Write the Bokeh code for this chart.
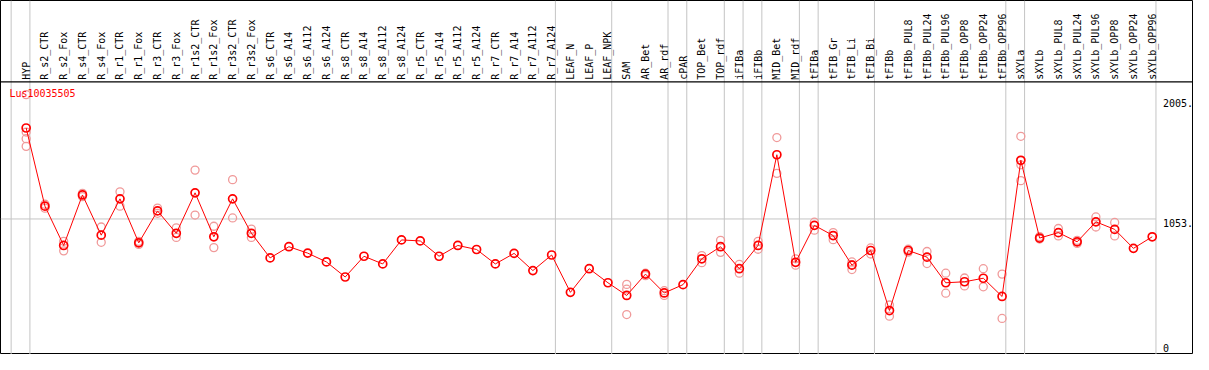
import numpy as np
from bokeh.plotting import figure
from bokeh.models import Range1d
from bokeh.core.properties import value
from bokeh.embed import file_html
from bokeh.resources import INLINE

# ---------------- data ----------------
title_text = "Lus10035505"

categories = [
    "HYP",
    "R_s2_CTR", "R_s2_Fox", "R_s4_CTR", "R_s4_Fox", "R_r1_CTR", "R_r1_Fox",
    "R_r3_CTR", "R_r3_Fox", "R_r1s2_CTR", "R_r1s2_Fox", "R_r3s2_CTR", "R_r3s2_Fox",
    "R_s6_CTR", "R_s6_A14", "R_s6_A112", "R_s6_A124",
    "R_s8_CTR", "R_s8_A14", "R_s8_A112", "R_s8_A124",
    "R_r5_CTR", "R_r5_A14", "R_r5_A112", "R_r5_A124",
    "R_r7_CTR", "R_r7_A14", "R_r7_A112", "R_r7_A124",
    "LEAF_N", "LEAF_P", "LEAF_NPK",
    "SAM", "AR_Bet", "AR_rdf",
    "cPAR",
    "TOP_Bet", "TOP_rdf",
    "iFIBa",
    "iFIBb",
    "MID_Bet", "MID_rdf",
    "tFIBa",
    "tFIB_Gr", "tFIB_Li", "tFIB_Bi",
    "tFIBb", "tFIBb_PUL8", "tFIBb_PUL24", "tFIBb_PUL96", "tFIBb_OPP8", "tFIBb_OPP24", "tFIBb_OPP96",
    "sXYLa",
    "sXYLb", "sXYLb_PUL8", "sXYLb_PUL24", "sXYLb_PUL96", "sXYLb_OPP8", "sXYLb_OPP24", "sXYLb_OPP96",
]

# group sizes (vertical separators drawn after each group)
group_sizes = [1, 28, 3, 3, 1, 2, 1, 1, 2, 1, 3, 7, 1, 7]

means = [
    1777,
    1155, 842, 1244, 924, 1213, 863, 1117, 939, 1261, 911, 1213, 939,
    743, 832, 781, 711,
    591, 756, 695, 886,
    878, 756, 842, 810,
    695, 779, 642, 766,
    469, 657, 545,
    444, 614, 464,
    530,
    736, 832,
    657,
    842,
    1564, 708,
    1002,
    921, 685, 802,
    324, 802, 749, 545, 553, 581, 436,
    1520,
    901, 944, 871, 1030, 970, 819, 911,
]

replicates = [
    [2043, 1745, 1692, 1631],
    [1170, 1139], [875, 799], [1257, 1231], [989, 867], [1269, 1155], [875, 850],
    [1140, 1098], [982, 906], [1442, 1084], [995, 825], [1366, 1061], [972, 906],
    [], [], [], [],
    [], [], [], [],
    [], [], [], [],
    [], [], [], [],
    [], [], [],
    [532, 494, 292], [621, 602], [482, 444],
    [],
    [761, 705], [883, 787],
    [692, 621],
    [875, 812],
    [1701, 1416], [736, 685],
    [1027, 964],
    [944, 888], [711, 690, 650], [822, 774],
    [368, 279], [812, 789], [794, 698], [621, 462], [583, 520], [657, 513], [614, 261],
    [1711, 1484, 1358],
    [913, 893], [977, 918], [883, 858], [1069, 989], [1025, 918], [], [],
]

y_ticks = [0, 1053, 2005]
y_tick_labels = ["0", "1053.", "2005."]

# ---------------- layout ----------------
W, H = 1193, 354
x_lo, x_hi = -1.367, 62.2
y_lo, y_hi = -26, 2792
header_line = 2145          # black line under the category labels
u_per_px = (y_hi - y_lo) / H

idx = np.arange(len(categories))
ends = np.cumsum(group_sizes) - 1
bounds = [-1 + 0.2] + [e + 0.2 for e in ends]
right_edge = bounds[-1]

p = figure(width=W, height=H, x_range=Range1d(x_lo, x_hi), y_range=Range1d(y_lo, y_hi),
           output_backend="svg", toolbar_location=None,
           x_axis_location=None, y_axis_location=None, min_border=0)
p.grid.visible = False
p.outline_line_color = "black"
p.outline_line_width = 1
p.background_fill_color = "white"
p.border_fill_color = "white"

gray = "#c4c4c4"
# vertical group separators
p.segment(x0=bounds, y0=[y_lo] * len(bounds), x1=bounds, y1=[y_hi] * len(bounds),
          line_color=gray, line_width=1)
# horizontal reference line at middle tick
p.segment(x0=[x_lo], y0=[y_ticks[1]], x1=[right_edge], y1=[y_ticks[1]],
          line_color=gray, line_width=1)
# header separator
p.segment(x0=[x_lo], y0=[header_line], x1=[x_hi], y1=[header_line],
          line_color="black", line_width=1.2)

mono = value("DejaVu Sans Mono")

# category labels (vertical)
p.text(x=idx, y=[header_line + 2 * u_per_px] * len(categories), text=categories,
       angle=np.pi / 2, text_align="left", text_baseline="middle",
       text_font=mono, text_font_size="10px", text_color="black")

# y tick labels on the right
tick_y = [max(t, y_lo + 11 * u_per_px) for t in y_ticks]
p.text(x=[right_edge + 0.37] * len(y_ticks), y=tick_y, text=y_tick_labels,
       text_align="left", text_baseline="top",
       text_font=mono, text_font_size="10px", text_color="black")

# replicates
rx, ry = [], []
for i, reps in enumerate(replicates):
    for r in reps:
        rx.append(i)
        ry.append(r)
p.scatter(rx, ry, marker="circle", size=8, fill_color=None,
          line_color="#f09a9a", line_width=1.3)

# mean line and points
p.line(idx, means, line_color="red", line_width=1)
p.scatter(idx, means, marker="circle", size=8, fill_color=None,
          line_color="red", line_width=1.7)

# title
p.text(x=[-0.894], y=[2053], text=[title_text], text_align="left", text_baseline="middle",
       text_font=mono, text_font_size="10px", text_color="red")

open("out.html", "w").write(file_html(p, INLINE))
